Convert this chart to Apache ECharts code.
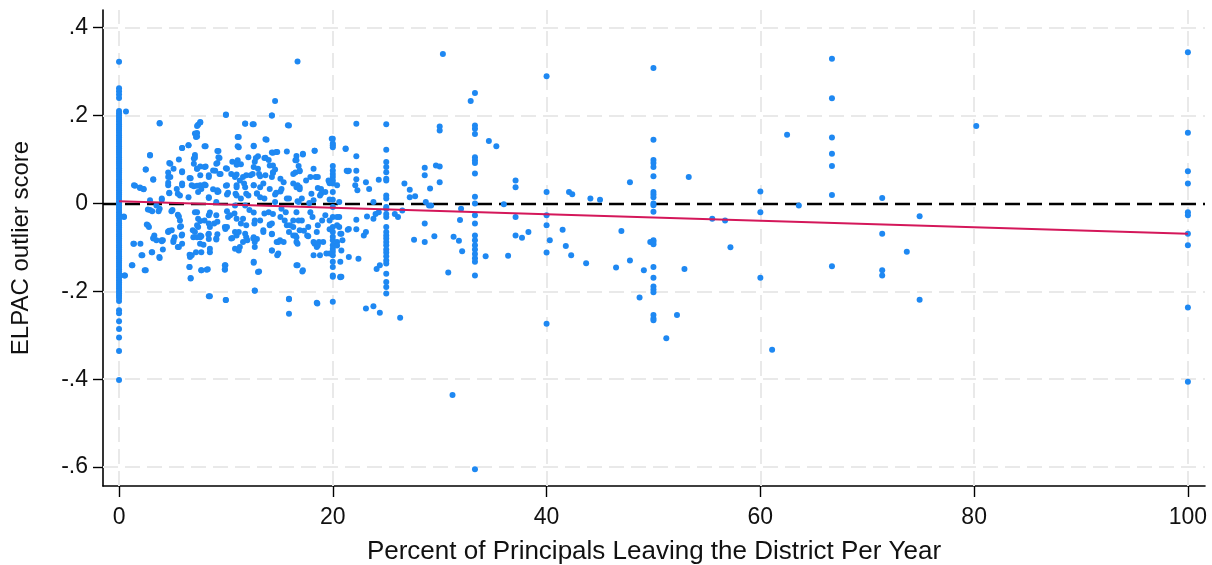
<!DOCTYPE html>
<html>
<head>
<meta charset="utf-8">
<script src="https://cdn.jsdelivr.net/npm/echarts@6/dist/echarts.min.js"></script>
<style>
html,body{margin:0;padding:0;background:#fff;}
#chart{width:1212px;height:565px;}
</style>
</head>
<body>
<div id="chart"></div>
<script>
// ---- Data ----
const xTicks = [0, 20, 40, 60, 80, 100];
const yTicks = [-0.6, -0.4, -0.2, 0, 0.2, 0.4];
const yTickLabels = ['-.6', '-.4', '-.2', '0', '.2', '.4'];

// districts with 0 % turnover (dense column)
const col0Y = [0.322,0.262,0.255,0.248,0.24,
  0.21,0.205,0.2,0.195,0.19,0.185,0.18,0.175,0.17,0.165,0.16,0.155,0.15,0.145,0.14,0.135,0.13,0.125,0.12,0.115,0.11,0.105,0.1,0.095,0.09,0.085,0.08,0.075,0.07,0.065,0.06,0.055,0.05,0.045,0.04,0.035,0.03,0.025,0.02,0.015,0.01,0.005,0,
  -0.005,-0.01,-0.015,-0.02,-0.025,-0.03,-0.035,-0.04,-0.045,-0.05,-0.055,-0.06,-0.065,-0.07,-0.075,-0.08,-0.085,-0.09,-0.095,-0.1,-0.105,-0.11,-0.115,-0.12,-0.125,-0.13,-0.135,-0.14,-0.145,-0.15,-0.155,-0.16,-0.165,-0.17,-0.175,-0.18,-0.185,-0.19,-0.195,-0.2,-0.205,-0.21,-0.215,
  -0.222,-0.243,-0.25,-0.268,-0.286,-0.305,-0.336,-0.402];
const col20Y = [0.147,0.136,0.132,0.085,0.075,0.067,0.06,0.052,0.045,0.026,0.008,-0.008,-0.031,-0.054,-0.065,-0.076,-0.084,-0.095,-0.103,-0.11,-0.118,-0.133,-0.145,-0.167,-0.224];
const col25Y = [0.18,0.122,0.094,0.083,0.071,0.056,0.052,0.018,0.011,-0.008,-0.012,-0.024,-0.031,-0.054,-0.065,-0.073,-0.08,-0.088,-0.095,-0.105,-0.112,-0.12,-0.13,-0.137,-0.16,-0.179,-0.19,-0.205];
const col33Y = [0.251,0.177,0.17,0.158,0.105,0.098,0.092,0.068,0.015,0.0,-0.027,-0.046,-0.073,-0.084,-0.095,-0.105,-0.115,-0.125,-0.133,-0.164,-0.605];
const col40Y = [0.289,0.026,-0.027,-0.05,-0.112,-0.274];
const col50Y = [0.308,0.145,0.099,0.092,0.083,0.062,0.026,0.02,0.014,0.0,-0.004,-0.019,-0.084,-0.088,-0.093,-0.145,-0.169,-0.189,-0.196,-0.202,-0.254,-0.262,-0.266];
const col60Y = [0.027,-0.02,-0.169];
const col667Y = [0.329,0.239,0.15,0.113,0.085,0.019,-0.143];
const col714Y = [0.012,-0.069,-0.152,-0.164];
const col100Y = [0.344,0.161,0.073,0.045,-0.02,-0.027,-0.069,-0.095,-0.237,-0.406];

// scattered points [percent, score]
const otherPoints = [
 [0.65,0.209],[0.45,-0.03],[0.56,-0.164],
 [16.7,0.323],[14.6,0.233],[14.3,0.2],[10.0,0.202],
 [3.8,0.182],[7.6,0.184],[7.4,0.179],[11.8,0.182],[12.5,0.18],[15.8,0.178],
 [7.3,0.16],[7.3,0.152],[11.1,0.151],
 [13.8,0.145],[11.1,0.13],[12.6,0.131],[6.5,0.132],[5.9,0.126],[8.1,0.13],[21.2,0.125],[9.2,0.119],[18.3,0.12],
 [2.9,0.11],[7.1,0.11],[7.1,0.104],[9.3,0.105],[14.3,0.116],[14.8,0.117],[16.6,0.108],[17.2,0.111],[13,0.107],[13.7,0.104],[5.6,0.1],[11.1,0.098],
 [4.7,0.092],[7.0,0.090],[7.6,0.084],[9.2,0.092],[10.6,0.095],[11.4,0.089],[12.7,0.095],[14.0,0.099],[14.4,0.086],[14.6,0.077],[16.5,0.098],[16.8,0.085],[2.5,0.077],[21.4,0.073],
 [4.6,0.070],[4.6,0.060],[3.2,0.054],[5.9,0.073],[6.7,0.057],[7.3,0.079],[8.1,0.084],[8.4,0.064],[9.0,0.074],[9.5,0.067],[10.1,0.079],[11.0,0.066],[11.3,0.052],[11.9,0.064],[12.5,0.067],[13.1,0.067],[13.7,0.064],[14.4,0.069],[15.4,0.048],[16.5,0.070],[16.9,0.073],[17.9,0.060],[18.4,0.060],[19.6,0.052],
 [1.5,0.040],[1.96,0.036],[2.3,0.033],[4.6,0.041],[5.9,0.045],[7.0,0.039],[7.6,0.041],[8.1,0.041],[9.2,0.030],[10.1,0.041],[11.0,0.041],[11.7,0.045],[12.6,0.041],[13.2,0.037],[14.1,0.033],[15.1,0.027],[16.7,0.041],[16.9,0.037],[18.6,0.035],[19.7,0.046],
 [4.7,0.023],[5.5,0.022],[6.5,0.014],[7.4,0.026],[8.4,0.014],[9.2,0.026],[10.1,0.020],[10.9,0.022],[11.4,0.011],[12.1,0.018],[12.9,0.023],[13.6,0.011],[14.6,0.020],[15.7,0.011],[16.7,0.005],[17.1,0.011],[17.8,0.001],[18.9,0.022],[19.3,0.026],[20.6,0.003],[4.0,0.008],[2.9,0.007],
 [2.9,-0.015],[3.8,-0.012],[5,-0.015],[5.6,-0.03],[7.3,-0.02],[7.6,-0.04],[8.4,-0.027],[9.2,-0.042],[10.2,-0.031],[10.8,-0.023],[11.4,-0.046],[12.2,-0.015],[12.7,-0.039],[13.6,-0.023],[14.3,-0.046],[15.1,-0.031],[15.6,-0.02],[16.3,-0.039],[17.1,-0.039],[18.1,-0.031],[19,-0.039],[20.6,-0.031],
 [2.8,-0.054],[3.3,-0.073],[4.1,-0.084],[4.7,-0.062],[5.9,-0.092],[6.9,-0.061],[7.6,-0.073],[8.4,-0.081],[9.2,-0.07],[10.1,-0.054],[11,-0.073],[12,-0.084],[12.9,-0.081],[14.3,-0.07],[15.4,-0.088],[16.5,-0.073],[17.3,-0.062],[19.1,-0.088],[20.9,-0.084],[2,-0.092],
 [2.7,-0.05],[4.93,-0.061],[5.7,-0.054],[5.86,-0.073],[7.3,-0.05],[8.5,-0.054],[9.95,-0.058],[11.2,-0.065],[11.9,-0.05],[12.66,-0.046],[13.5,-0.061],[14.1,-0.05],[15.7,-0.05],[16.3,-0.054],[16.9,-0.061],[17.7,-0.054],[18.6,-0.05],[21.5,-0.058],[20.6,-0.054],
 [1.34,-0.092],[3.21,-0.08],[3.99,-0.084],[3.06,-0.111],[4.6,-0.065],[5.08,-0.088],[5.6,-0.099],[6.95,-0.077],[7.7,-0.075],[8.36,-0.071],[7.58,-0.092],[8.5,-0.111],[6.8,-0.118],[9.1,-0.08],[10.5,-0.08],[11.3,-0.099],[11.2,-0.107],[11.9,-0.077],[12.57,-0.08],[12.7,-0.099],[14.3,-0.107],[14.75,-0.088],[15.06,-0.084],[16.3,-0.073],[16.7,-0.092],[17.7,-0.075],[18.3,-0.092],[18.7,-0.088],[18.2,-0.118],[19.4,-0.114],[20.4,-0.088],[20.7,-0.069],
 [1.25,-0.141],[2.18,-0.118],[2.5,-0.152],[3.77,-0.122],[6.58,-0.145],[6.7,-0.171],[6.64,-0.122],[7.7,-0.152],[8.2,-0.151],[9.95,-0.141],[9.9,-0.151],[12.6,-0.135],[13.1,-0.155],[14.8,-0.118],[16.7,-0.141],[17.15,-0.155],[20.7,-0.168],[20.7,-0.133],[20.8,-0.107],[21.5,-0.122],[18.5,-0.099],
 [8.5,-0.211],[9.98,-0.220],[12.7,-0.199],[15.9,-0.218],[15.9,-0.251],[18.55,-0.228],
 [22.2,0.181],[21.2,0.124],[22.2,0.107],[21.3,0.074],[21.5,0.074],[22.2,0.074],[22.2,0.055],[22.1,0.041],[22.3,0.030],[23.1,0.048],[23.4,0.033],[23.8,0.003],[23.2,-0.030],[23.8,-0.035],[22.2,-0.037],[22.2,-0.059],[21.4,-0.060],[22.9,-0.073],[23.1,-0.065],[20.8,-0.069],[22.4,-0.126],[20.8,-0.167],[24.1,-0.149],[24.4,-0.141],[23.1,-0.239],[23.8,-0.234],[24.4,-0.249],[26.3,-0.26],[24.0,-0.024],[24.3,-0.020],[24.3,0.054],[25.8,-0.024],[26.1,-0.031],[26.5,-0.016],[26.7,0.045],[27.2,0.031],[27.2,0.014],[27.7,0.016],[27.6,-0.083],[28.6,0.081],[28.6,0.064],[29.1,0.034],[28.7,0.003],[29.0,-0.005],[29.2,-0.005],[28.6,-0.046],[28.6,-0.088],[29.5,-0.075],
 [30.3,0.34],[30.0,0.175],[30.0,0.166],[29.65,0.086],[30.0,0.084],[30.0,0.048],
 [30.8,-0.157],[31.3,-0.076],[31.8,-0.085],[31.9,-0.038],[32.0,-0.012],[32.1,-0.109],[32.9,0.233],[31.2,-0.436],
 [34.6,0.142],[35.3,0.13],[34.3,-0.12],[36.0,-0.002],[37.1,0.052],[37.1,0.037],[37.1,-0.031],[36.4,-0.119],[37.1,-0.073],[37.7,-0.078],[38.3,-0.065],
 [40.3,-0.084],[41.5,-0.06],[41.8,-0.097],[42.3,-0.118],[43.7,-0.136],[42.1,0.026],[42.4,0.021],[44.1,0.011],
 [45,0.008],[47.0,-0.063],[46.5,-0.146],[47.8,0.048],[47.8,-0.13],[49.1,-0.152],[48.7,-0.214],[49.7,-0.088],
 [52.2,-0.254],[51.2,-0.307],[52.9,-0.149],[53.3,0.06],[55.5,-0.035],[56.7,-0.039],[57.2,-0.1],
 [61.1,-0.333],[62.5,0.156],[63.6,-0.005],
 [74.9,-0.029],[73.7,-0.11],[74.9,-0.219],[80.2,0.176]
];

// further points of the dense cloud, 1-10 %
const cloudLow = [
 [3.8,0.183],[7.6,0.185],[7.3,0.176],[7.1,0.159],[7.2,0.151],[5.9,0.126],[6.5,0.132],[8.0,0.130],[2.9,0.109],[7.0,0.102],[9.3,0.119],[9.4,0.103],[10.0,0.201],[2.5,0.077],[3.2,0.055],[4.8,0.090],[5.1,0.079],[4.8,0.060],[4.6,0.047],[5.9,0.071],[6.6,0.058],[7.3,0.079],[7.6,0.064],[8.0,0.083],[8.4,0.060],[8.8,0.075],[9.1,0.090],[9.4,0.067],[10.0,0.080],[10.5,0.067],
 [1.4,0.041],[1.96,0.035],[2.3,0.032],[4.7,0.024],[5.4,0.033],[5.7,0.018],[5.9,0.041],[6.8,0.041],[7.3,0.040],[7.7,0.033],[8.0,0.043],[8.8,0.032],[9.3,0.027],[10.0,0.040],[10.2,0.024],[8.4,0.012],[9.1,0.003],[4.0,0.011],[3.5,-0.005],[3.1,-0.018],[2.7,-0.014],[3.7,-0.018],[4.9,-0.018],[5.5,-0.026],[5.7,-0.039],[7.1,-0.020],[7.4,-0.035],[8.0,-0.039],[8.5,-0.021],[9.1,-0.027],[10.1,-0.018],[10.4,-0.027],
 [0.47,-0.031],[4.6,-0.064],[5.8,-0.052],[5.9,-0.071],[7.1,-0.065],[7.4,-0.054],[8.4,-0.046],[8.9,-0.046],[9.9,-0.054],[2.6,-0.048],[1.4,-0.092],[3.2,-0.079],[3.5,-0.084],[4.0,-0.086],[5.1,-0.084],[5.2,-0.077],[5.5,-0.099],[4.1,-0.105],[3.1,-0.111],[2.1,-0.118],[3.8,-0.124],[6.6,-0.117],[7.2,-0.111],[7.6,-0.077],[7.9,-0.094],[8.4,-0.069],[8.5,-0.103],[9.1,-0.082],[10.6,-0.079],[7.3,-0.077],[7.7,-0.111],
 [1.2,-0.141],[2.4,-0.152],[6.6,-0.145],[6.7,-0.17],[7.7,-0.152],[8.3,-0.15],[9.9,-0.141],[9.9,-0.15],[0.5,-0.164],[8.4,-0.211],[10.0,-0.22]
];

// further points of the dense cloud, 10-21 %
const cloudHigh = [
 [14.3,0.200],[11.8,0.181],[12.6,0.18],[15.9,0.177],[11.2,0.151],[13.7,0.146],[11.2,0.128],[12.6,0.130],[19.9,0.147],[20.0,0.128],[18.3,0.12],[14.4,0.115],[14.7,0.117],[15.7,0.118],[12.1,0.105],[12.8,0.103],[13.6,0.103],[17.2,0.113],[16.6,0.098],
 [11.0,0.088],[12.6,0.083],[13.0,0.079],[14.1,0.086],[14.4,0.071],[16.3,0.067],[16.9,0.075],[18.2,0.079],[18.6,0.060],[10.85,0.060],[11.6,0.060],[12.3,0.064],[13.2,0.062],[14.3,0.060],[15.1,0.056],[16.3,0.045],[16.6,0.037],[17.5,0.052],[18.9,0.033],[19.7,0.048],[20.4,0.041],
 [11.0,0.037],[11.8,0.037],[12.6,0.041],[13.5,0.045],[14.7,0.024],[15.2,0.033],[16.9,0.032],[18.0,0.022],[18.8,0.018],[11.0,0.018],[11.9,0.022],[12.9,0.022],[13.2,0.014],[14.6,0.003],[15.9,0.011],[16.8,0.003],[18.2,0.007],[19.7,0.009],
 [10.85,-0.005],[11.8,-0.005],[12.6,-0.021],[14.0,-0.020],[14.4,-0.024],[15.2,-0.012],[16.6,-0.020],[17.9,-0.020],[19.3,-0.027],[19.7,-0.039],[20.4,-0.031],[11.0,-0.035],[11.6,-0.035],[13.2,-0.039],[14.1,-0.048],[15.5,-0.039],[16.0,-0.05],[16.8,-0.039],
 [10.85,-0.065],[11.8,-0.069],[12.6,-0.077],[13.5,-0.065],[14.3,-0.069],[15.9,-0.065],[16.6,-0.077],[17.6,-0.073],[18.5,-0.065],[19.7,-0.059],[20.4,-0.05],
 [10.85,-0.103],[11.6,-0.088],[12.7,-0.088],[14.3,-0.107],[14.9,-0.088],[16.6,-0.088],[18.2,-0.088],[18.6,-0.096],[19.7,-0.114],[20.4,-0.096],[14.9,-0.114],[12.6,-0.133],[13.0,-0.156],[16.6,-0.141],[17.2,-0.152],[18.8,-0.118],[20.0,-0.164],[20.7,-0.167],
 [12.7,-0.198],[15.9,-0.217],[18.5,-0.226]
];

// linear fit line end points
const fitX = [0, 100];
const fitY = [0.005, -0.069];

// ---- build series data ----
const columns = [
  [0, col0Y], [20, col20Y], [25, col25Y], [33.3, col33Y], [40, col40Y],
  [50, col50Y], [60, col60Y], [66.7, col667Y], [71.4, col714Y], [100, col100Y]
];
const scatterData = [];
columns.forEach(([x, ys]) => ys.forEach(y => scatterData.push([x, y])));
otherPoints.concat(cloudLow, cloudHigh).forEach(p => scatterData.push(p));
const fitData = fitX.map((x, i) => [x, fitY[i]]);

const FONT = '"Liberation Sans", Arial, sans-serif';
const chart = echarts.init(document.getElementById('chart'), null, {renderer: 'canvas'});

const gridLineData = xTicks.map(v => ({xAxis: v})).concat(yTicks.map(v => ({yAxis: v})));

chart.setOption({
  animation: false,
  backgroundColor: '#ffffff',
  grid: {left: 103, right: 7, top: 10, bottom: 79, containLabel: false, outerBoundsMode: 'none'},
  xAxis: {
    type: 'value', min: -1.5, max: 101.6,
    name: 'Percent of Principals Leaving the District Per Year',
    nameLocation: 'middle', nameGap: 53,
    nameTextStyle: {fontFamily: FONT, fontSize: 26, color: '#111'},
    axisLine: {show: true, onZero: false, lineStyle: {color: '#000', width: 1.6}},
    axisTick: {show: true, inside: false, length: 11, customValues: xTicks, lineStyle: {color: '#000', width: 1.4}},
    axisLabel: {show: true, customValues: xTicks, margin: 20, fontFamily: FONT, fontSize: 23, color: '#111'},
    splitLine: {show: false}
  },
  yAxis: {
    type: 'value', min: -0.643, max: 0.44,
    name: 'ELPAC outlier score',
    nameLocation: 'middle', nameGap: 70, nameRotate: 90,
    nameTextStyle: {fontFamily: FONT, fontSize: 24, color: '#111'},
    axisLine: {show: true, onZero: false, lineStyle: {color: '#000', width: 1.6}},
    axisTick: {show: true, inside: false, length: 10, customValues: yTicks, lineStyle: {color: '#000', width: 1.4}},
    axisLabel: {
      show: true, customValues: yTicks, margin: 15, fontFamily: FONT, fontSize: 23, color: '#111',
      formatter: v => { const i = yTicks.findIndex(t => Math.abs(t - v) < 1e-9); return i >= 0 ? yTickLabels[i] : ''; }
    },
    splitLine: {show: false}
  },
  series: [
    {
      type: 'line', data: [], silent: true, z: 1,
      markLine: {
        silent: true, symbol: 'none', label: {show: false}, z: 1,
        lineStyle: {color: '#e9e9e9', type: [15, 7], width: 2},
        emphasis: {disabled: true},
        data: gridLineData
      }
    },
    {
      type: 'line', data: [], silent: true, z: 2,
      markLine: {
        silent: true, symbol: 'none', label: {show: false}, z: 2,
        lineStyle: {color: '#000', type: [15, 7], width: 2.4},
        emphasis: {disabled: true},
        data: [{yAxis: 0}]
      }
    },
    {
      type: 'scatter', data: scatterData, symbol: 'circle', symbolSize: 6, z: 3,
      large: false,
      itemStyle: {color: '#1e88f2', opacity: 1, borderWidth: 0},
      emphasis: {disabled: true}
    },
    {
      type: 'line', data: fitData, symbol: 'none', z: 4,
      lineStyle: {color: '#d4175a', width: 2}
    }
  ]
});
</script>
</body>
</html>
